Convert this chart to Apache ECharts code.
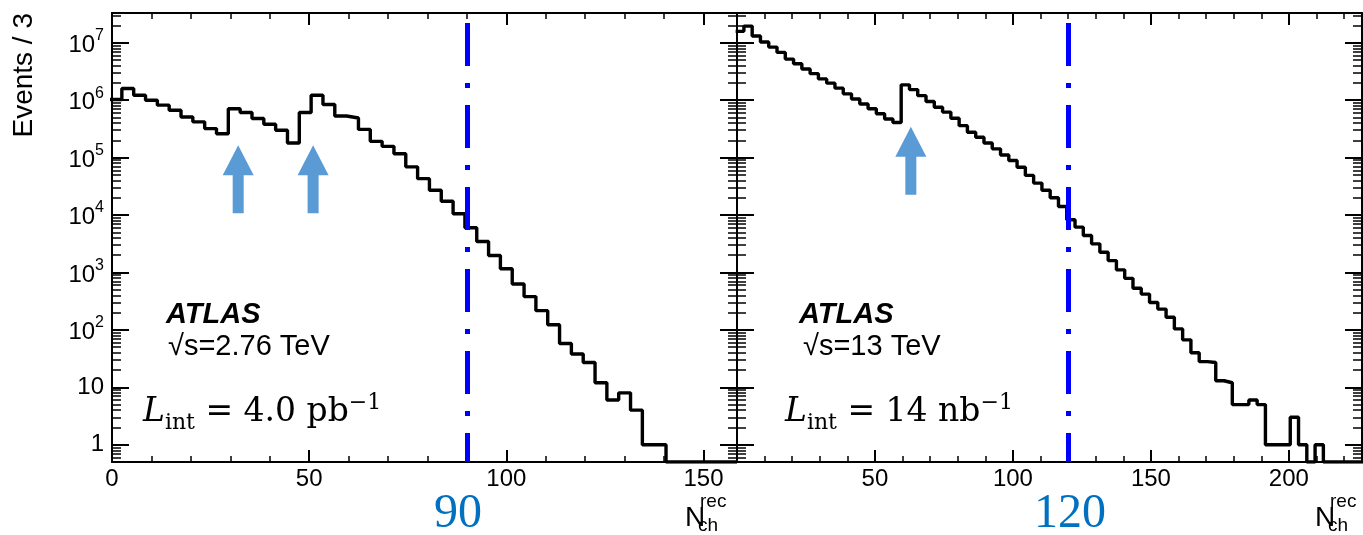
<!DOCTYPE html>
<html>
<head>
<meta charset="utf-8">
<title>N_ch rec</title>
<script src="https://cdn.jsdelivr.net/npm/echarts@6/dist/echarts.min.js"></script>
<style>
html,body{margin:0;padding:0;background:#fff;}
#chart{width:1363px;height:535px;}
</style>
</head>
<body>
<div id="chart"></div>
<script>
// bins are 3 wide, first edge at -0.5
var binLow = -0.5;
var binWidth = 3;
var yMin = 0.5;
var yMax = 3.3e7;

// sqrt(s) = 2.76 TeV, events per bin
var leftCounts = [
  1.03e6, 1.6e6, 1.22e6, 1.0e6, 8.2e5, 6.7e5, 5.1e5, 4.2e5, 3.2e5, 2.6e5,
  7.1e5, 6.1e5, 4.8e5, 3.8e5, 3.0e5, 1.8e5, 6.1e5, 1.22e6, 8.4e5, 5.3e5,
  4.9e5, 3.1e5, 1.92e5, 1.57e5, 1.17e5, 6.9e4, 4.3e4, 2.7e4, 1.74e4, 1.05e4,
  6000, 3460, 1970, 1160, 630, 380, 216, 123, 58, 38,
  27, 12, 6, 8, 4, 1, 1, 0, 0, 0,
  0, 0, 0
];
// sqrt(s) = 13 TeV
var rightCounts = [
  1.58e7, 1.95e7, 1.31e7, 1.03e7, 8.4e6, 6.8e6, 5.2e6, 4.3e6, 3.5e6, 2.9e6,
  2.35e6, 1.98e6, 1.62e6, 1.29e6, 1.05e6, 8.6e5, 7.1e5, 5.8e5, 4.7e5, 4.1e5,
  1.85e6, 1.53e6, 1.2e6, 9.5e5, 7.55e5, 6.2e5, 4.85e5, 3.6e5, 2.77e5, 2.26e5,
  1.8e5, 1.42e5, 1.11e5, 8.9e4, 6.8e4, 4.9e4, 3.6e4, 2.7e4, 2.0e4, 1.41e4,
  8300, 6150, 4400, 3150, 2250, 1610, 1110, 790, 530, 420,
  300, 230, 166, 104, 67, 40, 28, 27, 13, 12,
  5, 5, 6, 5, 1, 1, 1, 3, 1, 0,
  1, 0, 0, 0, 0, 0
];

var leftXMax = 158.5;
var rightXMax = 226.5;
var cutLeft = 90;
var cutRight = 120;
var cutTop = 2.2e7;

var majorTicks = [1, 10, 100, 1e3, 1e4, 1e5, 1e6, 1e7];
var leftXLabels = [0, 50, 100, 150];
var rightXLabels = [50, 100, 150, 200];

// arrow centres [x, y]
var leftArrows = [[32, 4.2e4], [51, 4.2e4]];
var rightArrows = [[63, 8.8e4]];

// minor log ticks 2..9 of each decade
var minorTicks = [];
[0.1, 1, 10, 100, 1e3, 1e4, 1e5, 1e6, 1e7].forEach(function (d) {
  for (var m = 2; m <= 9; m++) {
    var v = m * d;
    if (v >= yMin && v <= yMax) minorTicks.push(v);
  }
});

function stepPoints(counts) {
  var pts = [];
  for (var i = 0; i < counts.length; i++) {
    pts.push([binLow + i * binWidth, Math.max(counts[i], yMin)]);
  }
  pts.push([binLow + counts.length * binWidth, Math.max(counts[counts.length - 1], yMin)]);
  return pts;
}

var FONT = 'Liberation Sans';
var arrowPath = 'path://M15.5,0L31,30L21,30L21,68L10,68L10,30L0,30Z';

function xAxisCfg(grid, max, pos, labels) {
  return {
    type: 'value', gridIndex: grid, position: pos, min: 0, max: max, interval: 50,
    axisLine: {show: true, onZero: false, lineStyle: {color: '#000', width: 2}},
    axisTick: {show: true, inside: true, length: 12, lineStyle: {color: '#000', width: 2}},
    minorTick: {show: true, splitNumber: 5, length: 6, lineStyle: {color: '#000', width: 1.5}},
    axisLabel: labels ? {
      show: true, customValues: labels, margin: 5, color: '#000', fontSize: 24, fontFamily: FONT
    } : {show: false},
    splitLine: {show: false},
    minorSplitLine: {show: false}
  };
}

function yAxisCfg(grid, pos, minor, labels) {
  return {
    type: 'log', logBase: 10, gridIndex: grid, position: pos, min: yMin, max: yMax,
    axisLine: {show: !minor, onZero: false, lineStyle: {color: '#000', width: 2}},
    axisTick: {
      show: true, inside: true, length: minor ? 9 : 17,
      customValues: minor ? minorTicks : majorTicks,
      lineStyle: {color: '#000', width: minor ? 1.5 : 2}
    },
    axisLabel: labels ? {
      show: true, customValues: majorTicks, margin: 8, color: '#000', fontSize: 24, fontFamily: FONT,
      formatter: function (v) {
        var e = Math.round(Math.log(v) / Math.LN10);
        if (e === 0) return '1';
        if (e === 1) return '10';
        return '{b|10}{s|' + e + '}';
      },
      rich: {
        b: {fontSize: 24, fontFamily: FONT, color: '#000', padding: [5, 0, 0, 0]},
        s: {fontSize: 16, fontFamily: FONT, color: '#000', padding: [0, 0, 14, 0]}
      }
    } : {show: false},
    splitLine: {show: false}
  };
}

function histSeries(xi, yi, counts, cut, arrows) {
  return {
    type: 'line', xAxisIndex: xi, yAxisIndex: yi, step: 'end',
    data: stepPoints(counts), showSymbol: false, symbol: 'none', silent: true,
    lineStyle: {color: '#000', width: 3.4},
    markLine: {
      silent: true, symbol: 'none', label: {show: false},
      lineStyle: {color: '#0000ff', width: 5, type: [43, 17, 5, 17]},
      data: [[{coord: [cut, cutTop]}, {coord: [cut, yMin]}]]
    },
    markPoint: {
      silent: true, symbol: arrowPath, symbolSize: [31, 68], label: {show: false},
      itemStyle: {color: '#5b9bd5'},
      data: arrows.map(function (a) { return {coord: a}; })
    }
  };
}

function txt(x, y, text, size, opts) {
  opts = opts || {};
  return {
    type: 'text', x: x, y: y, rotation: opts.rotation || 0, silent: true,
    style: {
      text: text, fill: opts.color || '#000', fontSize: size,
      fontFamily: opts.family || FONT, fontWeight: opts.weight || 'normal',
      fontStyle: opts.style || 'normal',
      align: opts.align || 'left', verticalAlign: 'middle', rich: opts.rich
    }
  };
}

var serif = 'DejaVu Serif';
var lumiRich = {
  L: {fontFamily: serif, fontSize: 33, fontStyle: 'italic', fill: '#000'},
  i: {fontFamily: serif, fontSize: 22, fill: '#000', padding: [22, 0, 0, 0]},
  m: {fontFamily: serif, fontSize: 33, fill: '#000'},
  s: {fontFamily: serif, fontSize: 22, fill: '#000', padding: [0, 0, 18, 0]}
};

var chart = echarts.init(document.getElementById('chart'));
chart.setOption({
  animation: false,
  backgroundColor: '#fff',
  textStyle: {fontFamily: FONT},
  grid: [
    {left: 112, top: 13, width: 625, height: 449},
    {left: 737, top: 13, width: 625, height: 449}
  ],
  xAxis: [
    xAxisCfg(0, leftXMax, 'bottom', leftXLabels),
    xAxisCfg(0, leftXMax, 'top', null),
    xAxisCfg(1, rightXMax, 'bottom', rightXLabels),
    xAxisCfg(1, rightXMax, 'top', null)
  ],
  yAxis: [
    yAxisCfg(0, 'left', false, true),
    yAxisCfg(0, 'left', true, false),
    yAxisCfg(0, 'right', false, false),
    yAxisCfg(0, 'right', true, false),
    yAxisCfg(1, 'left', false, false),
    yAxisCfg(1, 'left', true, false),
    yAxisCfg(1, 'right', false, false),
    yAxisCfg(1, 'right', true, false)
  ],
  series: [
    histSeries(0, 0, leftCounts, cutLeft, leftArrows),
    histSeries(2, 4, rightCounts, cutRight, rightArrows)
  ],
  graphic: [
    txt(24, 13, 'Events / 3', 28, {rotation: Math.PI / 2, align: 'right'}),
    txt(166, 315, 'ATLAS', 29, {weight: 'bold', style: 'italic'}),
    txt(168, 347, '\u221as=2.76 TeV', 29),
    txt(143, 412, '{L|L}{i|int}{m| = 4.0 pb}{s|\u22121}', 33, {family: serif, rich: lumiRich}),
    txt(799, 315, 'ATLAS', 29, {weight: 'bold', style: 'italic'}),
    txt(803, 347, '\u221as=13 TeV', 29),
    txt(785, 412, '{L|L}{i|int}{m| = 14 nb}{s|\u22121}', 33, {family: serif, rich: lumiRich}),
    txt(458, 514, '90', 48, {family: 'Liberation Serif', color: '#0070c0', align: 'center'}),
    txt(1070, 514, '120', 48, {family: 'Liberation Serif', color: '#0070c0', align: 'center'}),
    txt(685, 518, 'N', 28),
    txt(700, 502, 'rec', 19),
    txt(698, 526, 'ch', 19),
    txt(1315, 518, 'N', 28),
    txt(1330, 502, 'rec', 19),
    txt(1328, 526, 'ch', 19)
  ]
});
</script>
</body>
</html>
